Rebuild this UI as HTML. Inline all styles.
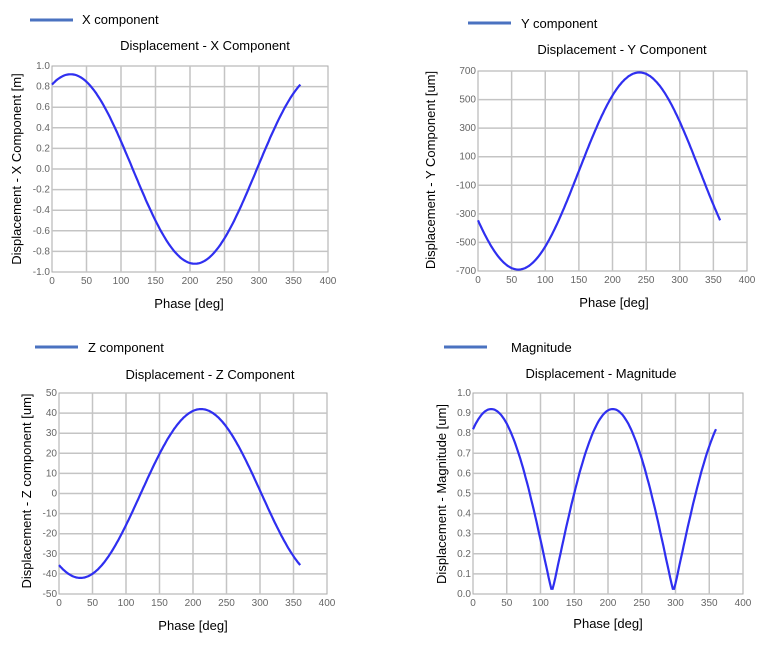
<!DOCTYPE html>
<html><head><meta charset="utf-8"><style>
html,body{margin:0;padding:0;background:#fff;width:781px;height:647px;overflow:hidden}
svg{display:block}
.t{font-family:"Liberation Sans",sans-serif;font-size:13px;fill:#000}
.k{font-family:"Liberation Sans",sans-serif;font-size:10px;fill:#666}
</style></head><body>
<svg id="s" width="781" height="647" xmlns="http://www.w3.org/2000/svg">
<text class="t" x="82" y="24">X component</text>
<text class="t" x="205" y="50" text-anchor="middle">Displacement - X Component</text>
<text class="t" x="189" y="308" text-anchor="middle">Phase [deg]</text>
<text class="t" transform="translate(21,169) rotate(-90)" text-anchor="middle">Displacement - X Component [m]</text>

<text class="t" x="521" y="28">Y component</text>
<text class="t" x="622" y="54" text-anchor="middle">Displacement - Y Component</text>
<text class="t" x="614" y="307" text-anchor="middle">Phase [deg]</text>
<text class="t" transform="translate(435,170) rotate(-90)" text-anchor="middle">Displacement - Y Component [um]</text>

<text class="t" x="88" y="352">Z component</text>
<text class="t" x="210" y="379" text-anchor="middle">Displacement - Z Component</text>
<text class="t" x="193" y="630" text-anchor="middle">Phase [deg]</text>
<text class="t" transform="translate(31,491) rotate(-90)" text-anchor="middle">Displacement - Z component [um]</text>

<text class="t" x="511" y="352">Magnitude</text>
<text class="t" x="601" y="378" text-anchor="middle">Displacement - Magnitude</text>
<text class="t" x="608" y="628" text-anchor="middle">Phase [deg]</text>
<text class="t" transform="translate(446,494) rotate(-90)" text-anchor="middle">Displacement - Magnitude [um]</text>
</svg>
<script>
var s=document.getElementById('s'),NS='http://www.w3.org/2000/svg';
function el(n,a,txt){var e=document.createElementNS(NS,n);for(var k in a)e.setAttribute(k,a[k]);if(txt!=null)e.textContent=txt;s.appendChild(e);return e;}
function plot(x0,x1,yT,yB,vmax,vmin,ticks,fmt,f,lx,ly){
 el('line',{x1:lx,x2:lx+43,y1:ly,y2:ly,stroke:'#4a72c0','stroke-width':3});
 el('rect',{x:x0,y:yT,width:x1-x0,height:yB-yT,fill:'#fff',stroke:'#aaa','stroke-width':1});
 for(var i=0;i<=8;i++){var x=x0+(x1-x0)*i/8;
  if(i>0&&i<8)el('line',{x1:x,x2:x,y1:yT,y2:yB,stroke:'#c4c4c4','stroke-width':1.5});
  el('text',{'class':'k',x:x,y:yB+12,'text-anchor':'middle'},String(i*50));}
 for(var j=0;j<ticks.length;j++){var v=ticks[j];var y=yB-(v-vmin)/(vmax-vmin)*(yB-yT);
  if(j>0&&j<ticks.length-1)el('line',{x1:x0,x2:x1,y1:y,y2:y,stroke:'#c4c4c4','stroke-width':1.5});
  el('text',{'class':'k',x:x0-2,y:y+3,'text-anchor':'end'},fmt(v));}
 var d='';for(var t=0;t<=360;t+=2){var v=f(t);var x=x0+(x1-x0)*t/400;var y=yB-(v-vmin)/(vmax-vmin)*(yB-yT);d+=(t?'L':'M')+x.toFixed(1)+' '+y.toFixed(1);}
 el('path',{d:d,fill:'none',stroke:'#2f2ff0','stroke-width':2.2});
}
var r=Math.PI/180;
function rng(a,b,st){var o=[];for(var v=a;v>=b-1e-9;v-=st)o.push(Math.round(v*100)/100);return o;}
plot(52,328,66,272,1,-1,rng(1,-1,0.2),function(v){return v.toFixed(1)},function(t){return 0.92*Math.cos((t-27)*r)},30,20);
plot(478,747,71,271,700,-700,rng(700,-700,200),function(v){return String(v)},function(t){return -690*Math.cos((t-60)*r)},468,23);
plot(59,327,393,594,50,-50,rng(50,-50,10),function(v){return String(v)},function(t){return 42*Math.cos((t-212)*r)},35,347);
plot(473,743,393,594,1,0,rng(1,0,0.1),function(v){return v.toFixed(1)},function(t){var a=0.92*Math.cos((t-27)*r);return Math.sqrt(a*a+0.0004)},444,347);
</script>
</body></html>
